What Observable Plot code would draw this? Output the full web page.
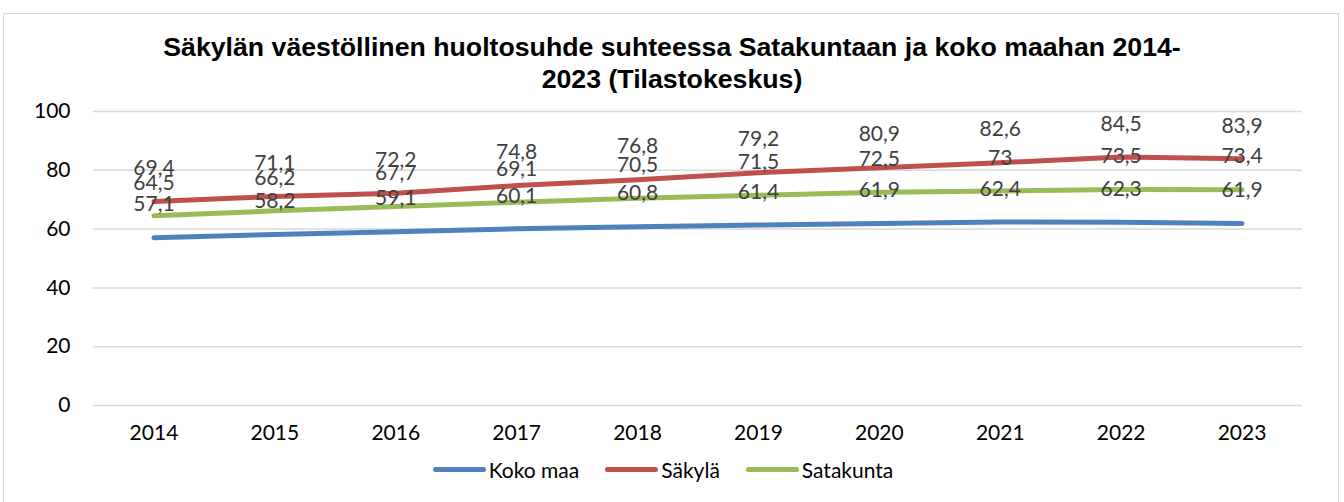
<!DOCTYPE html>
<html>
<head>
<meta charset="utf-8">
<script src="https://cdn.jsdelivr.net/npm/d3@7"></script>
<script src="https://cdn.jsdelivr.net/npm/@observablehq/plot@0.6"></script>
<style>
  html, body { margin: 0; padding: 0; background: #fff; }
  #wrap { position: relative; width: 1344px; height: 502px; overflow: hidden; background: #fff; }
  #frame { position: absolute; left: 3px; top: 13px; width: 1336px; height: 520px; border: 1px solid #d9d9d9; box-sizing: border-box; }
  #title { position: absolute; left: 0; top: 31px; width: 1344px; text-align: center; font-family: "Liberation Sans", Arial, sans-serif; font-weight: bold; font-size: 26.7px; line-height: 32px; color: #000; }
  #chart { position: absolute; left: 0; top: 95px; }
  #legend { position: absolute; left: 0; top: 457px; width: 1326px; display: flex; justify-content: center; align-items: center; font-family: Lato, sans-serif; font-size: 21px; color: #000; }
  .item { display: flex; align-items: center; margin: 0 13px; }
  .sw { width: 53px; height: 5px; border-radius: 3px; margin-right: 3px; }
</style>
</head>
<body>
<div id="wrap">
  <div id="frame"></div>
  <div id="title">Säkylän väestöllinen huoltosuhde suhteessa Satakuntaan ja koko maahan 2014-<br>2023 (Tilastokeskus)</div>
  <div id="chart"></div>
  <div id="legend"></div>
</div>
<script>
const years = ["2014","2015","2016","2017","2018","2019","2020","2021","2022","2023"];
const seriesNames = ["Koko maa", "Säkylä", "Satakunta"];
const seriesColors = ["#4f81bd", "#c0504d", "#9bbb59"];
const kokoMaa   = [57.1, 58.2, 59.1, 60.1, 60.8, 61.4, 61.9, 62.4, 62.3, 61.9];
const sakyla    = [69.4, 71.1, 72.2, 74.8, 76.8, 79.2, 80.9, 82.6, 84.5, 83.9];
const satakunta = [64.5, 66.2, 67.7, 69.1, 70.5, 71.5, 72.5, 73, 73.5, 73.4];
const yTicks = [0, 20, 40, 60, 80, 100];

const seriesValues = [kokoMaa, sakyla, satakunta];
const data = [];
seriesNames.forEach((s, i) => {
  years.forEach((y, j) => data.push({series: s, year: y, value: seriesValues[i][j]}));
});
const fmt = v => String(v).replace(".", ",");

const chart = Plot.plot({
  width: 1344,
  height: 360,
  marginLeft: 93,
  marginRight: 42,
  marginTop: 16,
  marginBottom: 50,
  style: { fontFamily: "Lato, sans-serif", fontSize: "21px", color: "#000", background: "transparent", overflow: "visible" },
  x: { type: "point", domain: years, padding: 0.5, round: false, label: null },
  y: { domain: [0, 100], ticks: yTicks, label: null },
  color: { domain: seriesNames, range: seriesColors },
  marks: [
    Plot.ruleY(yTicks, { stroke: "#d9d9d9", strokeWidth: 1.5 }),
    Plot.axisY({ ticks: yTicks, tickSize: 0, tickPadding: 23, label: null, fontSize: 21, fill: "#000" }),
    Plot.axisX({ tickSize: 0, tickPadding: 20, label: null, fontSize: 21, fill: "#000" }),
    Plot.line(data, { x: "year", y: "value", z: "series", stroke: "series", strokeWidth: 5, strokeLinecap: "round", strokeLinejoin: "round" }),
    Plot.text(data, { x: "year", y: "value", text: d => fmt(d.value), dy: -33, fill: "#404040", fontSize: 21 })
  ]
});
document.getElementById("chart").appendChild(chart);

const legend = document.getElementById("legend");
seriesNames.forEach((s, i) => {
  const item = document.createElement("div");
  item.className = "item";
  const sw = document.createElement("span");
  sw.className = "sw";
  sw.style.background = seriesColors[i];
  const t = document.createElement("span");
  t.textContent = s;
  item.appendChild(sw);
  item.appendChild(t);
  legend.appendChild(item);
});
</script>
</body>
</html>
